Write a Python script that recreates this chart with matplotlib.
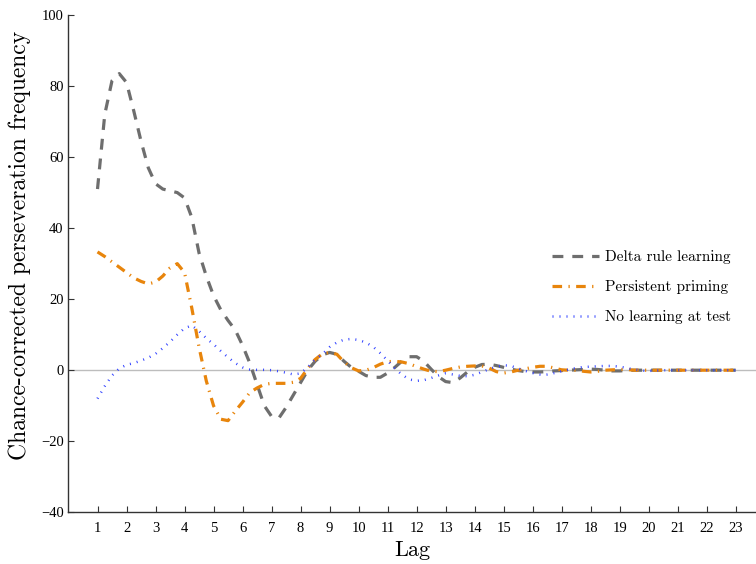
import matplotlib
matplotlib.use("Agg")
import matplotlib.pyplot as plt
import numpy as np

# lag positions (quarter steps) and curve values for the three models
lag = np.arange(1, 23.01, 0.25)

delta_rule = [
    51, 72, 81.5, 83.5, 81, 73, 64.5, 57, 52.5, 51, 50.5, 50,
    48.5, 43, 33, 26.5, 21, 17, 14, 11.3, 7, 2, -4, -10,
    -13, -13.5, -10.5, -7, -3.5, 0, 2.5, 4.3, 5, 4.5, 2.5, 0.8,
    -0.3, -1.5, -2, -2, -0.8, 0.8, 2.6, 3.8, 3.8, 2.5, 0.3, -1.8,
    -3.2, -3.5, -2.2, -0.5, 0.8, 1.6, 1.7, 1.3, 0.8, 0.3, -0.1, -0.4,
    -0.5, -0.5, -0.4, -0.2, -0.1, 0, 0.1, 0.2, 0.3, 0.2, 0, -0.2,
    -0.2, -0.1, 0, 0, 0, 0, 0, 0, 0, 0, 0, 0,
    0, 0, 0, 0, 0,
]

persistent = [
    33.3, 32, 30.5, 29, 27.5, 26, 25, 24.3, 24.8, 26.5, 28.8, 30,
    27.5, 17.5, 6.5, -3, -10, -13.8, -14.2, -11.5, -9, -6.3, -5, -4,
    -3.7, -3.7, -3.7, -3.4, -2.3, 0.5, 3, 4.6, 5, 4.5, 2.3, 0.7,
    -0.2, 0, 0.7, 1.7, 2.4, 2.5, 2.3, 1.8, 1.0, 0.3, -0.3, -0.4,
    0, 0.5, 0.9, 1.1, 1.2, 1.2, 0.6, -0.4, -0.8, -0.5, 0, 0.4,
    0.8, 1.1, 1.1, 0.6, 0.1, 0, 0, -0.3, -0.5, -0.3, 0, 0.1,
    0.2, 0.2, 0, 0, 0, 0, 0, 0, 0, 0, 0, 0,
    0, 0, 0, 0, 0,
]

no_learning = [
    -8, -4.5, -1.5, 0.5, 1.5, 2, 2.7, 3.5, 4.6, 6.2, 8, 10,
    11.8, 12.6, 11, 9, 7.3, 5.4, 3.6, 2, 0.8, 0.2, 0.1, 0.1,
    0, -0.3, -0.7, -1.2, -0.9, 0.8, 3.0, 4.5, 6.5, 7.8, 8.6, 8.8,
    8.5, 7.8, 6.6, 4.8, 2.7, 0.5, -1.3, -2.6, -3.0, -2.8, -2.2, -1.5,
    -0.9, -1.2, -1.6, -1.7, -1.3, -0.5, 0.3, 1.0, 1.4, 1.2, 0.5, -0.2,
    -0.8, -1.2, -1.2, -0.8, -0.3, 0.2, 0.6, 0.9, 1.0, 1.1, 1.2, 1.2,
    1.0, 0.6, 0.2, -0.1, -0.2, -0.1, 0, 0, 0, 0, 0, 0,
    0, 0, 0, 0, 0,
]

xticks = list(range(1, 24))
yticks = [-40, -20, 0, 20, 40, 60, 80, 100]

tickfont = "Liberation Serif"
labelfont = "cmr10"

fig = plt.figure(figsize=(7.56, 5.64), dpi=100)
ax = fig.add_axes([0.0906, 0.0917, 0.9094, 0.8817])

ax.axhline(0, color="#bdbdbd", lw=1.0, zorder=0)

ax.plot(lag, delta_rule, color="#6e6e6e", lw=2.3, dashes=(3.4, 2.8),
        label="Delta rule learning")
ax.plot(lag, persistent, color="#e8850c", lw=2.3, dashes=(3, 2, 0.4, 2),
        label="Persistent priming")
ax.plot(lag, no_learning, color="#3344ff", lw=1.8, dashes=(0.4, 2.4),
        label="No learning at test")

ax.set_xlim(0, 23.7)
ax.set_ylim(-40, 100)
ax.set_xticks(xticks)
ax.set_yticks(yticks)
ax.set_xticklabels([str(t) for t in xticks], fontfamily=tickfont, fontsize=10.5)
ax.set_yticklabels(["\u2212" + str(-t) if t < 0 else str(t) for t in yticks],
                   fontfamily=tickfont, fontsize=10.5)
ax.tick_params(axis="x", direction="in", length=4.5, width=0.8, pad=7, color="#333333")
ax.tick_params(axis="y", direction="in", length=4.5, width=0.8, pad=3.5, color="#333333")

for side in ["top", "right"]:
    ax.spines[side].set_visible(False)
for side in ["left", "bottom"]:
    ax.spines[side].set_color("#333333")
    ax.spines[side].set_linewidth(1.0)

ax.set_xlabel("Lag", fontfamily=labelfont, fontsize=16, labelpad=4)
fig.text(20 / 756, (564 - 245) / 564, "Chance-corrected perseveration frequency",
         fontfamily=labelfont, fontsize=17, rotation=90, ha="center", va="center")

leg = ax.legend(loc="center left", bbox_to_anchor=(0.712, 0.491),
                bbox_transform=fig.transFigure, frameon=False,
                prop={"family": labelfont, "size": 11},
                handlelength=3.1, handletextpad=0.35, labelspacing=1.05)

fig.savefig("out.png", dpi=100)
